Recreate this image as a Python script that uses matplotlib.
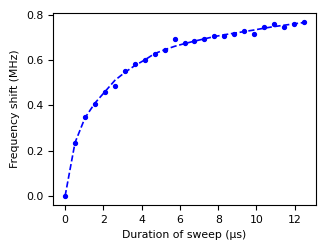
import numpy as np
import matplotlib
matplotlib.use('Agg')
import matplotlib.pyplot as plt

# sweep duration (us) and measured frequency shift (MHz)
duration = [0.0, 0.52, 1.04, 1.56, 2.08, 2.60, 3.12, 3.64, 4.16, 4.68, 5.20, 5.72, 6.24,
            6.76, 7.28, 7.80, 8.32, 8.84, 9.36, 9.88, 10.40, 10.92, 11.44, 11.96, 12.48]
shift = [0.0, 0.236, 0.347, 0.407, 0.458, 0.487, 0.550, 0.582, 0.601, 0.628, 0.642, 0.692, 0.674,
         0.683, 0.692, 0.705, 0.705, 0.713, 0.728, 0.716, 0.744, 0.760, 0.746, 0.760, 0.768]
# fitted curve
shift_fit = [0.0, 0.236, 0.345, 0.410, 0.460, 0.510, 0.545, 0.575, 0.600, 0.628, 0.645, 0.660, 0.672,
             0.683, 0.693, 0.703, 0.711, 0.718, 0.725, 0.732, 0.740, 0.747, 0.753, 0.759, 0.765]

plt.rcParams['font.size'] = 7.8
fig = plt.figure(figsize=(3.26, 2.52), dpi=100)
ax = fig.add_axes([0.163, 0.187, 0.806, 0.761])

ax.plot(duration, shift, 'o', color='blue', markersize=2.8)
ax.plot(duration, shift_fit, '--', color='blue', linewidth=1.2)

ax.set_xlabel('Duration of sweep (µs)')
ax.set_ylabel('Frequency shift (MHz)')
ax.set_xticks([0, 2, 4, 6, 8, 10, 12])
ax.set_yticks([0.0, 0.2, 0.4, 0.6, 0.8])

fig.savefig('out.png', dpi=100)
